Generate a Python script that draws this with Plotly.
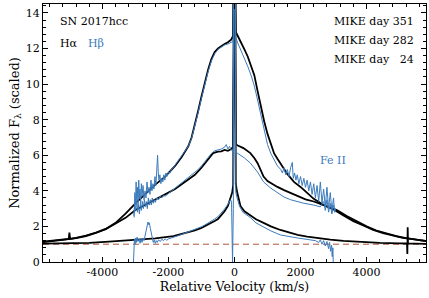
import plotly.graph_objects as go

# ---------------- data ----------------
# H-alpha, day 351 (black)
V_HA_351 = [-5800, -5500, -5200, -5020, -5000, -4980, -4800, -4500, -4200, -3900, -3600, -3300, -3000,
            -2700, -2400, -2100, -1800, -1600, -1400, -1300, -1200, -1100, -1000, -900, -800, -700,
            -600, -500, -400, -300, -200, -100, -45, -20, -8, 8, 20, 45, 100, 200, 300, 400, 500, 600,
            700, 800, 900, 1000, 1100, 1200, 1300, 1400, 1600, 1800, 2000, 2200, 2400, 2700, 3000,
            3300, 3600, 3900, 4200, 4500, 4800, 5100, 5400, 5800]
F_HA_351 = [1.15, 1.20, 1.27, 1.30, 1.65, 1.30, 1.36, 1.48, 1.65, 1.86, 2.20, 2.72, 3.30,
            3.85, 4.35, 4.80, 5.40, 5.90, 6.50, 7.00, 7.70, 8.50, 9.30, 10.10, 10.80, 11.40,
            11.80, 12.00, 12.15, 12.25, 12.35, 12.50, 12.70, 16.0, 30.0, 30.0, 16.0, 12.90, 12.70, 12.35,
            11.95, 11.55, 11.05, 10.50, 9.60, 8.70, 7.90, 7.20, 6.60, 6.10, 5.80, 5.50, 4.95, 4.50,
            4.22, 3.88, 3.55, 3.20, 2.95, 2.62, 2.30, 2.05, 1.80, 1.62, 1.47, 1.36, 1.28, 1.18]

# H-alpha, day 282 (black)
V_HA_282 = [-5800, -5500, -5200, -4800, -4500, -4200, -3900, -3600, -3300, -3000, -2700, -2400, -2100,
            -1800, -1500, -1200, -1000, -800, -650, -500, -400, -300, -200, -100, -45, -20, -8, 8, 20,
            45, 100, 270, 480, 600, 700, 800, 880, 1000, 1100, 1300, 1500, 1700, 1900, 2150, 2400,
            2650, 2900, 3100, 3400, 3700, 4000, 4300, 4600, 4900, 5200, 5500, 5800]
F_HA_282 = [1.12, 1.17, 1.24, 1.34, 1.46, 1.63, 1.85, 2.16, 2.48, 2.92, 3.20, 3.50, 3.80,
            4.10, 4.50, 4.90, 5.30, 5.75, 6.12, 6.20, 6.22, 6.30, 6.25, 6.35, 6.45, 14.0, 30.0, 30.0, 14.0,
            6.60, 6.55, 6.40, 6.12, 5.85, 5.55, 5.15, 4.80, 4.55, 4.43, 4.22, 4.04, 3.87, 3.70, 3.52, 3.40,
            3.22, 3.05, 2.92, 2.58, 2.27, 2.00, 1.77, 1.59, 1.45, 1.34, 1.26, 1.17]

# H-alpha, day 24 (black)
V_HA_24 = [-5800, -5000, -4400, -3800, -3000, -2400, -1850, -1500, -1200, -1000, -800, -600, -500,
           -400, -300, -200, -120, -70, -40, -18, -6, 6, 18, 40, 70, 120, 180, 300, 480, 650, 880,
           1100, 1390, 1650, 1910, 2200, 2510, 2900, 3300, 3800, 4400, 5000, 5225, 5235, 5245, 5255,
           5500, 5800]
F_HA_24 = [1.03, 1.05, 1.08, 1.14, 1.24, 1.33, 1.46, 1.62, 1.78, 1.92, 2.10, 2.30, 2.42,
           2.62, 2.85, 3.15, 3.55, 3.90, 4.30, 14.0, 30.0, 30.0, 14.0, 4.40, 4.00, 3.55, 3.15, 2.85,
           2.62, 2.40, 2.20, 2.00, 1.80, 1.64, 1.52, 1.43, 1.35, 1.26, 1.19, 1.13, 1.08, 1.05, 1.04,
           0.45, 1.95, 1.04, 1.03, 1.02]

# H-beta, day 351 (blue)
V_HB_351 = [-3040, -3020, -3000, -2980, -2960, -2940, -2920, -2900, -2880, -2860, -2840, -2820, -2800,
            -2770, -2740, -2710, -2680, -2650, -2620, -2590, -2560, -2530, -2500, -2470, -2440, -2410,
            -2380, -2350, -2330, -2310, -2290, -2260, -2230, -2200, -2170, -2140, -2110, -2080, -2050,
            -2000, -1950, -1900, -1850, -1800, -1700, -1600, -1500, -1400, -1300, -1200, -1100, -1000,
            -900, -800, -700, -600, -500, -400, -300, -200, -100, -40, -10, 10, 40, 100, 200, 300, 400,
            500, 600, 700, 800, 900, 1000, 1100, 1200, 1300, 1400, 1450, 1500, 1550, 1600, 1650, 1700,
            1750, 1780, 1820, 1860, 1900, 1950, 2000, 2050, 2100, 2150, 2200, 2250, 2300, 2350, 2400,
            2450, 2500, 2550, 2600, 2650, 2700, 2750, 2800, 2850, 2900, 2950, 3000, 3030, 3060]
F_HB_351 = [2.50, 3.90, 3.20, 4.50, 3.40, 4.20, 3.00, 4.60, 3.60, 4.10, 3.30, 4.40, 3.70,
            4.30, 3.50, 4.00, 3.60, 4.50, 3.90, 4.20, 3.80, 4.60, 4.00, 4.40, 4.10, 4.80,
            4.30, 5.20, 6.00, 5.10, 4.60, 4.90, 4.40, 4.70, 4.50, 4.90, 4.60, 5.00, 4.80,
            5.05, 5.00, 5.25, 5.30, 5.45, 5.70, 5.95, 6.25, 6.50, 6.95, 7.60, 8.40, 9.20,
            10.00, 10.70, 11.30, 11.70, 11.95, 12.10, 12.20, 12.25, 12.35, 12.40, 25.0, 25.0, 12.60, 12.30,
            11.90, 11.50, 11.00, 10.50, 9.90, 9.10, 8.20, 7.30, 6.60, 6.10, 5.70, 5.40, 5.20, 5.00, 5.30,
            4.90, 5.20, 4.80, 5.30, 5.60, 4.70, 5.00, 4.60, 4.90, 4.40, 4.80, 4.30, 4.70, 4.20, 4.60,
            4.00, 4.50, 3.80, 4.40, 3.60, 4.30, 3.40, 4.50, 3.30, 4.10, 3.10, 4.20, 3.00, 3.90, 2.90,
            3.60, 2.80, 3.00]

# H-beta, day 282 (blue)
V_HB_282 = [-3050, -3020, -3000, -2970, -2940, -2910, -2880, -2850, -2820, -2790, -2760, -2730, -2700,
            -2670, -2640, -2610, -2580, -2550, -2520, -2490, -2460, -2430, -2400, -2350, -2300, -2250,
            -2200, -2150, -2100, -2000, -1900, -1800, -1700, -1600, -1500, -1400, -1300, -1200, -1100,
            -1000, -900, -800, -700, -600, -500, -400, -300, -250, -200, -150, -100, -40, -10, 10, 40,
            100, 300, 480, 700, 880, 1100, 1300, 1500, 1700, 1900, 2100, 2400, 2600, 2700, 2750, 2800,
            2850, 2900, 2950, 3000, 3050]
F_HB_282 = [2.60, 3.30, 2.90, 3.40, 2.80, 3.20, 2.70, 3.30, 2.90, 3.40, 3.00, 3.50, 3.10,
            3.40, 3.00, 3.60, 3.20, 3.50, 3.20, 3.60, 3.30, 3.50, 3.35, 3.60, 3.50, 3.70,
            3.60, 3.75, 3.70, 3.85, 3.95, 4.10, 4.25, 4.40, 4.55, 4.70, 4.85, 5.00, 5.20,
            5.40, 5.65, 5.85, 6.10, 6.25, 6.30, 6.35, 6.45, 6.60, 6.35, 6.50, 6.30, 6.20, 22.0, 22.0, 6.15,
            6.10, 5.85, 5.56, 5.05, 4.50, 4.15, 3.90, 3.65, 3.50, 3.38, 3.30, 3.20, 3.10, 3.40, 2.90, 3.50,
            2.80, 3.30, 2.70, 3.20, 2.80]

# H-beta, day 24 (blue)
V_HB_24 = [-3060, -3050, -3030, -3010, -2990, -2970, -2950, -2920, -2890, -2860, -2830, -2800, -2770,
           -2740, -2710, -2680, -2650, -2620, -2600, -2580, -2550, -2520, -2490, -2460, -2430, -2400,
           -2370, -2340, -2300, -2250, -2200, -2150, -2100, -2050, -2000, -1900, -1800, -1700, -1600,
           -1500, -1400, -1300, -1200, -1100, -1000, -900, -800, -700, -600, -500, -400, -300, -200,
           -120, -90, -60, -35, -15, 0, 15, 40, 80, 150, 250, 400, 480, 650, 880, 1100, 1390, 1650,
           1910, 2200, 2450, 2550, 2600, 2650, 2700, 2750, 2800, 2850, 2880, 2910, 2940, 2960, 2980, 2990]
F_HB_24 = [0.00, 0.90, 1.30, 1.00, 1.35, 1.10, 1.40, 1.15, 1.30, 1.05, 1.30, 1.10, 1.35,
           1.20, 1.50, 1.75, 2.00, 2.25, 2.10, 2.20, 1.90, 1.60, 1.30, 1.10, 1.25, 1.05,
           1.20, 1.10, 1.25, 1.15, 1.28, 1.20, 1.30, 1.22, 1.30, 1.35, 1.42, 1.48, 1.55,
           1.62, 1.68, 1.75, 1.82, 1.90, 1.98, 2.08, 2.18, 2.30, 2.42, 2.55, 2.75, 2.98, 3.25,
           3.50, 3.40, 0.00, 3.00, 12.0, 30.0, 12.0, 3.90, 3.60, 3.15, 2.80, 2.60, 2.50, 2.20, 1.95,
           1.75, 1.52, 1.42, 1.35, 1.27, 1.20, 1.10, 1.25, 1.00, 1.20, 0.90, 1.15, 0.75, 1.10, 0.60,
           0.95, 0.30, 0.80, 0.00]

# continuum level
CONT_V = [-5800, 5800]
CONT_F = [1.0, 1.0]

X_TICKS = [-4000, -2000, 0, 2000, 4000]
X_TICKTEXT = ["-4000", "-2000", "0", "2000", "4000"]
Y_TICKS = [0, 2, 4, 6, 8, 10, 12, 14]

# ---------------- figure ----------------
BLACK = "#000000"
BLUE = "#3b7bbd"
FONT = "DejaVu Serif"

fig = go.Figure()
fig.add_trace(go.Scatter(x=CONT_V, y=CONT_F, mode="lines",
                         line=dict(color="#b0553c", width=1, dash="6px,4px")))
for v, f in [(V_HA_351, F_HA_351), (V_HA_282, F_HA_282), (V_HA_24, F_HA_24)]:
    fig.add_trace(go.Scatter(x=v, y=f, mode="lines", line=dict(color=BLACK, width=1.8)))
for v, f in [(V_HB_351, F_HB_351), (V_HB_282, F_HB_282), (V_HB_24, F_HB_24)]:
    fig.add_trace(go.Scatter(x=v, y=f, mode="lines", line=dict(color=BLUE, width=1)))

axis_common = dict(showgrid=False, zeroline=False, showline=True, linecolor="black", linewidth=1,
                   mirror="ticks", ticks="inside", ticklen=5, tickcolor="black", automargin=False,
                   tickfont=dict(family=FONT, size=11, color="black"))

fig.update_xaxes(range=[-5800, 5800], tickvals=X_TICKS, ticktext=X_TICKTEXT,
                 minor=dict(dtick=400, tick0=0, ticks="inside", ticklen=3, tickcolor="black"),
                 title=dict(text="Relative Velocity (km/s)", font=dict(family=FONT, size=12.5, color="black"),
                            standoff=2),
                 **axis_common)
fig.update_yaxes(range=[0, 14.5], tickvals=Y_TICKS,
                 minor=dict(dtick=0.4, tick0=0, ticks="inside", ticklen=3, tickcolor="black"),
                 title=dict(text="Normalized F<sub>λ</sub> (scaled)",
                            font=dict(family=FONT, size=13, color="black"), standoff=3),
                 **axis_common)

ann_font = dict(family=FONT, size=11, color="black")
annotations = [
    dict(x=0.040, y=0.934, text="SN 2017hcc", xanchor="left"),
    dict(x=0.040, y=0.845, text="Hα", xanchor="left"),
    dict(x=0.112, y=0.845, text="Hβ", xanchor="left", font=dict(family=FONT, size=11, color=BLUE)),
    dict(x=0.975, y=0.934, text="MIKE day 351", xanchor="right"),
    dict(x=0.975, y=0.857, text="MIKE day 282", xanchor="right"),
    dict(x=0.975, y=0.783, text="MIKE day \u00a0\u00a024", xanchor="right"),
    dict(x=0.757, y=0.395, text="Fe II", xanchor="center", font=dict(family=FONT, size=11, color=BLUE)),
]
for a in annotations:
    fig.add_annotation(xref="paper", yref="paper", showarrow=False, yanchor="middle",
                       font=a.pop("font", ann_font), **a)

fig.update_layout(width=429, height=298, margin=dict(l=43, r=3, t=4, b=36),
                  plot_bgcolor="white", paper_bgcolor="white", showlegend=False)

fig.write_html("out.html", config={"displayModeBar": False},
               post_script="document.body.style.margin='0';document.body.style.padding='0';")
